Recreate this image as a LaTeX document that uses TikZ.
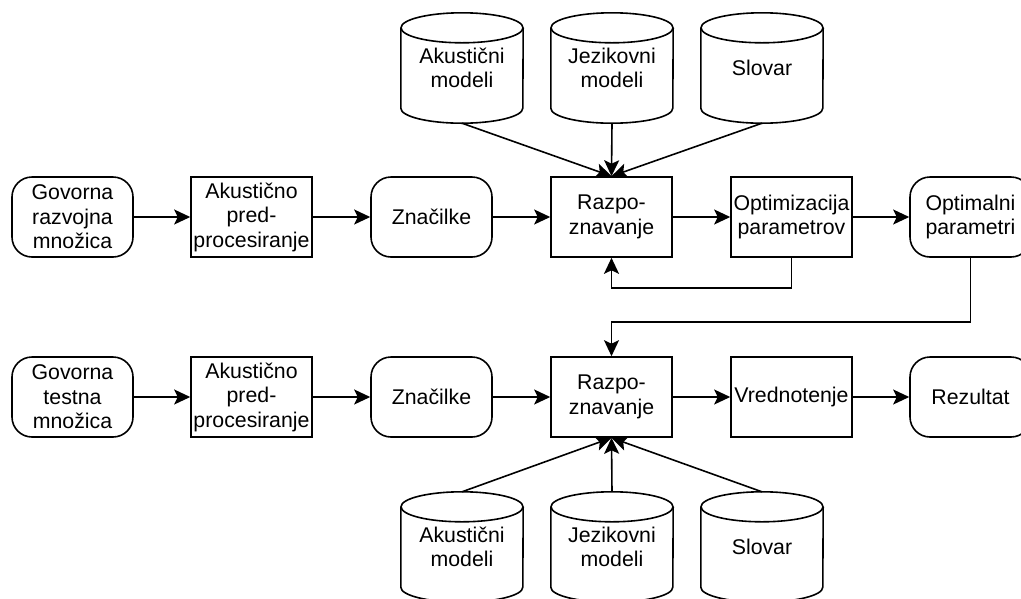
\documentclass[tikz,border=0pt]{standalone}
\usepackage{fontspec}
\setmainfont{Liberation Sans}
\usetikzlibrary{arrows.meta,calc}

% outline of a vertical drum (database) symbol around a plain node
\newcommand\drumoutline[1]{%
  \draw[line] ([yshift=-15pt]#1.north) ellipse [x radius=61pt, y radius=15pt];
  \draw[line] ([yshift=-15pt]#1.north west) -- ([yshift=15pt]#1.south west)
    arc [start angle=180, end angle=360, x radius=61pt, y radius=15pt]
    -- ([yshift=-15pt]#1.north east);
}

\tikzset{
  line/.style={line width=1.6pt, black},
  txt/.style={font=\fontsize{21.3}{24.5}\selectfont, align=center, inner sep=0pt},
  procbox/.style={txt, line, draw, minimum width=121pt, minimum height=80pt},
  databox/.style={procbox, rounded corners=20pt},
  drum/.style={txt, minimum width=122pt, minimum height=110pt},
  arr/.style={line, -{Stealth[length=16pt, width=15pt, inset=3.5pt]}},
}

\begin{document}
\begin{tikzpicture}[x=1pt, y=-1pt]
  \fill[white] (0,0) rectangle (1021,598);
  \useasboundingbox (0,0) rectangle (1021,598);

  % upper chain: development set
  \node[databox] (dev)   at (72.5,217)  {Govorna\\razvojna\\množica};
  \node[procbox] (pre1)  at (251.5,217) {Akustično\\pred-\\procesiranje};
  \node[databox] (feat1) at (431.5,217) {Značilke};
  \node[procbox] (rec1)  at (611.5,217) {Razpo-\\znavanje};
  \node[procbox] (opt)   at (791.5,217) {Optimizacija\\parametrov};
  \node[databox] (par)   at (970.5,217) {Optimalni\\parametri};

  % lower chain: test set
  \node[databox] (test)  at (72.5,397)  {Govorna\\testna\\množica};
  \node[procbox] (pre2)  at (251.5,397) {Akustično\\pred-\\procesiranje};
  \node[databox] (feat2) at (431.5,397) {Značilke};
  \node[procbox] (rec2)  at (611.5,397) {Razpo-\\znavanje};
  \node[procbox] (eval)  at (791.5,397) {Vrednotenje};
  \node[databox] (res)   at (970.5,397) {Rezultat};

  % model stores above and below
  \node[drum] (am1) at (462,68)  {Akustični\\modeli};
  \node[drum] (lm1) at (612,68)  {Jezikovni\\modeli};
  \node[drum] (dic1) at (762,68) {Slovar};
  \node[drum] (am2) at (462,547) {Akustični\\modeli};
  \node[drum] (lm2) at (612,547) {Jezikovni\\modeli};
  \node[drum] (dic2) at (762,547) {Slovar};
  \drumoutline{am1}
  \drumoutline{lm1}
  \drumoutline{dic1}
  \drumoutline{am2}
  \drumoutline{lm2}
  \drumoutline{dic2}

  % flow arrows
  \draw[arr] (dev) -- (pre1);
  \draw[arr] (pre1) -- (feat1);
  \draw[arr] (feat1) -- (rec1);
  \draw[arr] (rec1) -- (opt);
  \draw[arr] (opt) -- (par);
  \draw[arr] (test) -- (pre2);
  \draw[arr] (pre2) -- (feat2);
  \draw[arr] (feat2) -- (rec2);
  \draw[arr] (rec2) -- (eval);
  \draw[arr] (eval) -- (res);

  \draw[arr] (am1.south) -- (rec1.north);
  \draw[arr] (lm1.south) -- (rec1.north);
  \draw[arr] (dic1.south) -- (rec1.north);
  \draw[arr] (am2.north) -- (rec2.south);
  \draw[arr] (lm2.north) -- (rec2.south);
  \draw[arr] (dic2.north) -- (rec2.south);

  % feedback and hand-over of the tuned parameters
  \draw[arr] (opt.south) -- ++(0,30) -| (rec1.south);
  \draw[arr] (par.south) -- ++(0,64) -| (rec2.north);
\end{tikzpicture}
\end{document}
